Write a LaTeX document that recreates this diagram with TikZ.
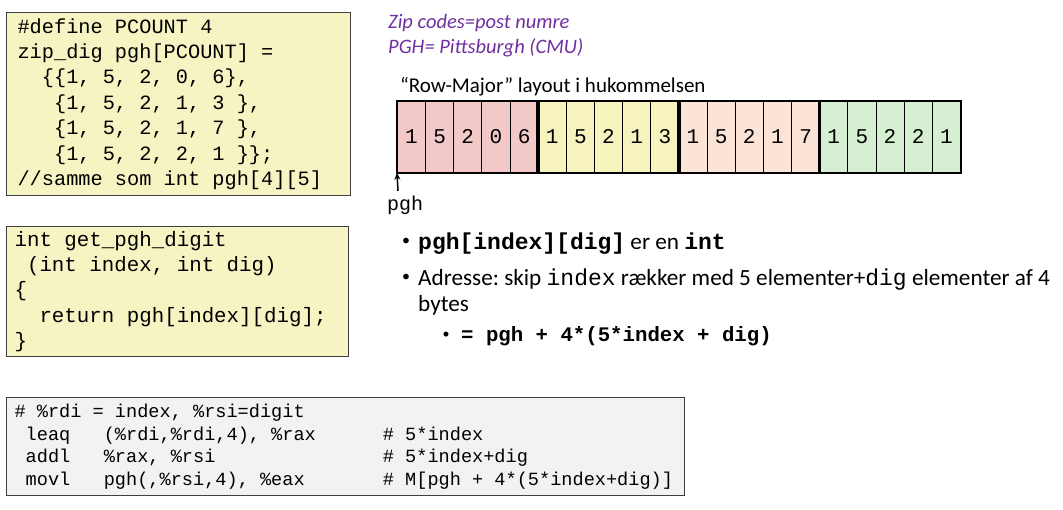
\documentclass[tikz,border=0pt]{standalone}
\usepackage{fontspec}
\setmainfont{Carlito}
\setmonofont{Liberation Mono}
\usetikzlibrary{arrows.meta}
\frenchspacing
\newcommand\monofont{\ttfamily}
\definecolor{codeyellow}{HTML}{F7F4C3}
\definecolor{codegray}{HTML}{F2F2F2}
\definecolor{rowpink}{HTML}{F2C8C8}
\definecolor{rowyellow}{HTML}{F6F3BE}
\definecolor{rowpeach}{HTML}{FBE3D6}
\definecolor{rowgreen}{HTML}{D6EED2}
\definecolor{notepurple}{HTML}{7030A0}
\tikzset{
  codebox/.style={draw=black!75, line width=1.1pt, anchor=north west, align=flush left, inner ysep=0pt},
  cell/.style={draw=black, line width=0.8pt, minimum width=28.15pt, minimum height=71pt, inner sep=0pt, anchor=north west, font=\fontsize{21}{24}\selectfont\monofont},
  rowgroup/.style={draw=black, line width=2.6pt},
  note/.style={anchor=base west, inner sep=0pt, text=notepurple, font=\fontsize{20.5}{25}\selectfont\itshape},
  plain/.style={anchor=base west, inner sep=0pt, font=\fontsize{21}{25}\selectfont},
  bullettext/.style={anchor=base west, inner sep=0pt, font=\fontsize{23.2}{26}\selectfont},
  bulletdot/.style={anchor=center, inner sep=0pt, font=\fontsize{16}{18}\selectfont},
}
\begin{document}
\begin{tikzpicture}[x=1pt,y=-1pt]
\useasboundingbox (0,0) rectangle (1063,509);

% code boxes
\node[codebox, fill=codeyellow, minimum width=344pt, minimum height=183pt, text width=322pt, inner xsep=11pt,
  font=\fontsize{20.3}{25.4}\selectfont\monofont] (decl) at (6,12) {%
\#define PCOUNT 4\\
zip\_dig pgh[PCOUNT] =\\
~~\{\{1, 5, 2, 0, 6\},\\
~~~\{1, 5, 2, 1, 3 \},\\
~~~\{1, 5, 2, 1, 7 \},\\
~~~\{1, 5, 2, 2, 1 \}\};\\
//samme som int pgh[4][5]};

\node[codebox, fill=codeyellow, minimum width=342pt, minimum height=130pt, text width=326pt, inner xsep=8pt,
  font=\fontsize{20.8}{25.3}\selectfont\monofont] (func) at (6,226) {%
int get\_pgh\_digit\\
~(int index, int dig)\\
\{\\
~~return pgh[index][dig];\\
\}};

\node[codebox, fill=codegray, minimum width=678pt, minimum height=98pt, text width=662pt, inner xsep=8pt,
  font=\fontsize{18.6}{22.6}\selectfont\monofont] (asm) at (6,397) {%
\# \%rdi = index, \%rsi=digit\\
~leaq~~~(\%rdi,\%rdi,4), \%rax~~~~~~\# 5*index\\
~addl~~~\%rax, \%rsi~~~~~~~~~~~~~~~\# 5*index+dig\\
~movl~~~pgh(,\%rsi,4), \%eax~~~~~~~\# M[pgh + 4*(5*index+dig)]};

% notes
\node[note] (zip) at (388,28) {Zip codes=post numre};
\node[note] (pghcmu) at (388,53) {PGH= Pittsburgh (CMU)};
\node[plain] (rowmajor) at (400,92) {“Row-Major” layout i hukommelsen};

% memory array
\foreach \v [count=\i from 0] in {1,5,2,0,6,1,5,2,1,3,1,5,2,1,7,1,5,2,2,1}{
  \pgfmathtruncatemacro{\g}{int(\i/5)}
  \ifcase\g \def\cc{rowpink}\or \def\cc{rowyellow}\or \def\cc{rowpeach}\or \def\cc{rowgreen}\fi
  \node[cell, fill=\cc] (c\i) at ({397+28.15*\i},101) {\v};
}
\draw[rowgroup] (c0.north west) rectangle (c4.south east);
\draw[rowgroup] (c5.north west) rectangle (c9.south east);
\draw[rowgroup] (c10.north west) rectangle (c14.south east);
\draw[rowgroup] (c15.north west) rectangle (c19.south east);

% pgh pointer
\node[anchor=base, inner sep=0pt, font=\fontsize{20}{24}\selectfont\monofont] (pghlbl) at (405,210) {pgh};
\coordinate (pghfoot) at (398,191);
\draw[line width=1.5pt, -{Stealth[length=7pt,width=6pt]}] (pghfoot) -- (c0.south west);

% bullets
\node[bulletdot] (b1dot) at (406,242) {•};
\node[bullettext] (b1) at (418,249) {{\fontsize{23}{26}\selectfont\monofont\bfseries pgh[index][dig]} er en {\fontsize{23}{26}\selectfont\monofont\bfseries int}};
\node[bulletdot] (b2dot) at (406,278) {•};
\node[bullettext] (b2) at (418,285) {Adresse: skip {\fontsize{23}{26}\selectfont\monofont index} rækker med 5 elementer+{\fontsize{23}{26}\selectfont\monofont dig} elementer af 4};
\node[bullettext] (b2b) at (418,311) {bytes};
\node[bulletdot, font=\fontsize{14}{16}\selectfont] (b3dot) at (446,335) {•};
\node[bullettext, font=\fontsize{20.7}{24}\selectfont] (b3) at (461,341) {\monofont\bfseries = pgh + 4*(5*index + dig)};
\end{tikzpicture}
\end{document}
